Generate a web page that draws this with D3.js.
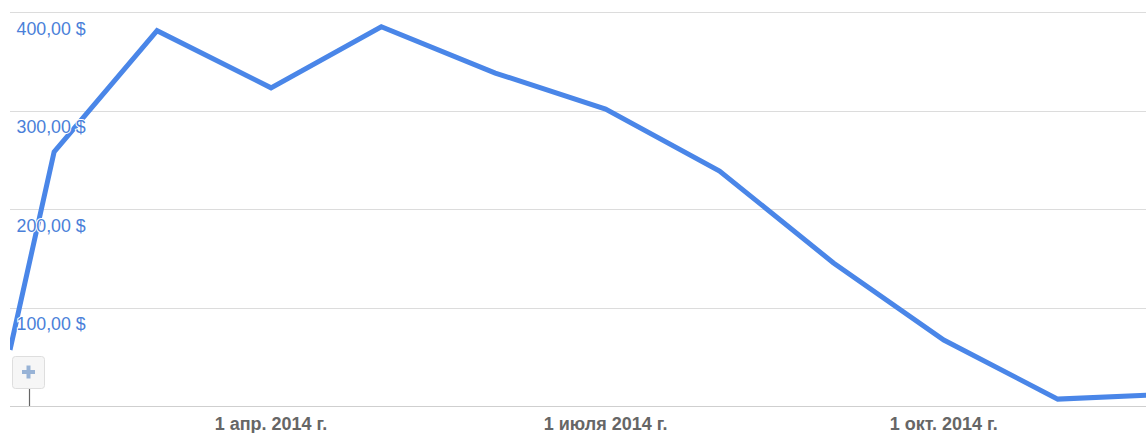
<!DOCTYPE html>
<html><head><meta charset="utf-8">
<script src="https://cdn.jsdelivr.net/npm/d3@7"></script>
<style>body{margin:0;background:#fff}svg{display:block}</style>
</head><body>
<script>
const dates = ["2014-01-20","2014-02-01","2014-03-01","2014-04-01","2014-05-01","2014-06-01","2014-07-01","2014-08-01","2014-09-01","2014-10-01","2014-11-01","2014-12-01"];
const values = [57, 258, 381, 323, 385, 338, 301.5, 238.6, 145.2, 67, 7, 12];
const yTicks = [100, 200, 300, 400];
const xTickDates = ["2014-04-01","2014-07-01","2014-10-01"];
const xTickLabels = ["1 апр. 2014 г.","1 июля 2014 г.","1 окт. 2014 г."];

const W = 1146, H = 433;
const parse = d3.utcParse("%Y-%m-%d");
const data = dates.map((d,i)=>({date:parse(d), v:values[i]}));

const x = d3.scaleUtc().domain([parse("2014-01-20"), parse("2014-11-25")]).range([10, 1146]);
const y = d3.scaleLinear().domain([0,400]).range([406, 12]);

const svg = d3.select("body").append("svg").attr("width",W).attr("height",H);
svg.append("defs").append("clipPath").attr("id","clip")
  .append("rect").attr("x",10).attr("y",0).attr("width",W-10).attr("height",H);

// gridlines
svg.append("g").selectAll("line").data(yTicks).join("line")
  .attr("x1",10).attr("x2",W).attr("y1",d=>Math.round(y(d))+0.5).attr("y2",d=>Math.round(y(d))+0.5)
  .attr("stroke","#dcdcdc").attr("stroke-width",1.2);
// baseline
svg.append("line").attr("x1",10).attr("x2",W).attr("y1",Math.round(y(0))+0.5).attr("y2",Math.round(y(0))+0.5)
  .attr("stroke","#cfcfcf").attr("stroke-width",1.2);

// line
const line = d3.line().x(d=>x(d.date)).y(d=>y(d.v));
svg.append("path").datum(data).attr("clip-path","url(#clip)")
  .attr("d",line).attr("fill","none").attr("stroke","#4a86e8").attr("stroke-width",5)
  .attr("stroke-linejoin","miter").attr("stroke-linecap","butt");

// y labels (drawn over the line with a thin white halo)
svg.append("g").selectAll("text").data(yTicks).join("text")
  .attr("x",16.5).attr("y",d=>y(d)+22.5)
  .attr("font-family","Liberation Sans, Arial, sans-serif").attr("font-size",17.8)
  .attr("fill","#4a7fd9").attr("stroke","#fff").attr("stroke-width",2).attr("paint-order","stroke")
  .text(d=>d3.format(".2f")(d).replace(".",",")+" $");

// x labels
svg.append("g").selectAll("text").data(xTickDates).join("text")
  .attr("x",d=>x(parse(d))).attr("y",430).attr("text-anchor","middle")
  .attr("font-family","Liberation Sans, Arial, sans-serif").attr("font-size",18).attr("font-weight","bold")
  .attr("fill","#666").text((d,i)=>xTickLabels[i]);

// zoom button
const b = svg.append("g");
b.append("line").attr("x1",29.5).attr("x2",29.5).attr("y1",388).attr("y2",406).attr("stroke","#666").attr("stroke-width",1.2);
b.append("rect").attr("x",12.5).attr("y",356.5).attr("width",32).attr("height",32).attr("rx",3)
  .attr("fill","#f6f6f6").attr("stroke","#dedede");
b.append("rect").attr("x",22).attr("y",370).attr("width",13).attr("height",4).attr("fill","#98b3d6");
b.append("rect").attr("x",26.5).attr("y",365.5).attr("width",4).attr("height",13).attr("fill","#98b3d6");
</script>
</body></html>
